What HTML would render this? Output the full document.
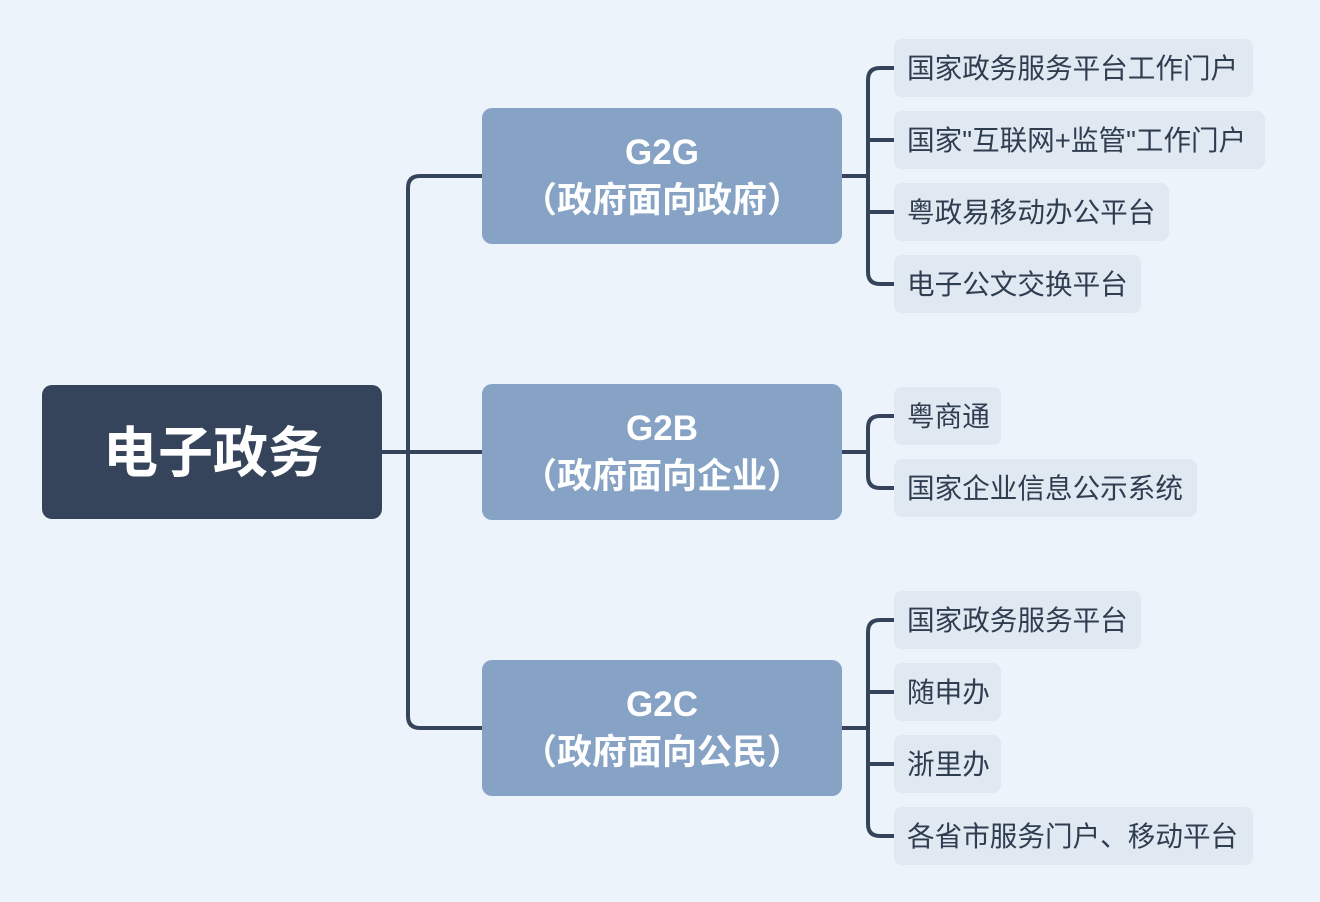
<!DOCTYPE html>
<html><head><meta charset="utf-8"><style>
html,body{margin:0;padding:0;background:#EDF3FA;}
svg{display:block}
text{font-family:"Liberation Sans","Noto Sans CJK SC",sans-serif;}
</style></head><body>
<svg width="1320" height="902" viewBox="0 0 1320 902" xmlns="http://www.w3.org/2000/svg">
<rect width="1320" height="902" fill="#EDF3FA"/>
<g fill="none" stroke="#35445A" stroke-width="4">
<path d="M382 452 H482"/>
<path d="M482 176 H420 Q408 176 408 188 V716 Q408 728 420 728 H482"/>
<path d="M842 176 H868"/>
<path d="M894 68 H880 Q868 68 868 80 V272 Q868 284 880 284 H894"/>
<path d="M868 140 H894 M868 212 H894"/>
<path d="M842 452 H868"/>
<path d="M894 416 H880 Q868 416 868 428 V476 Q868 488 880 488 H894"/>
<path d="M842 728 H868"/>
<path d="M894 620 H880 Q868 620 868 632 V824 Q868 836 880 836 H894"/>
<path d="M868 692 H894 M868 764 H894"/>
</g>
<rect x="42" y="385" width="340" height="134" rx="10" fill="#35445A"/>
<text x="213" y="472" text-anchor="middle" fill="#fff" font-size="55" font-weight="bold">电子政务</text>
<g fill="#86A3C6">
<rect x="482" y="108" width="360" height="136" rx="10"/>
<rect x="482" y="384" width="360" height="136" rx="10"/>
<rect x="482" y="660" width="360" height="136" rx="10"/>
</g>
<g fill="#fff" font-size="35" font-weight="bold" text-anchor="middle">
<text x="662" y="164">G2G</text><text x="662" y="212">（政府面向政府）</text>
<text x="662" y="440">G2B</text><text x="662" y="488">（政府面向企业）</text>
<text x="662" y="716">G2C</text><text x="662" y="764">（政府面向公民）</text>
</g>
<g fill="#E0E8F2">
<rect x="894" y="39" width="359" height="58" rx="8"/>
<rect x="894" y="111" width="371" height="58" rx="8"/>
<rect x="894" y="183" width="275" height="58" rx="8"/>
<rect x="894" y="255" width="247" height="58" rx="8"/>
<rect x="894" y="387" width="107" height="58" rx="8"/>
<rect x="894" y="459" width="303" height="58" rx="8"/>
<rect x="894" y="591" width="247" height="58" rx="8"/>
<rect x="894" y="663" width="107" height="58" rx="8"/>
<rect x="894" y="735" width="107" height="58" rx="8"/>
<rect x="894" y="807" width="359" height="58" rx="8"/>
</g>
<g fill="#2F3D50" font-size="27.6">
<text x="907" y="78">国家政务服务平台工作门户</text>
<text x="907" y="150">国家"互联网+监管"工作门户</text>
<text x="907" y="222">粤政易移动办公平台</text>
<text x="907" y="294">电子公文交换平台</text>
<text x="907" y="426">粤商通</text>
<text x="907" y="498">国家企业信息公示系统</text>
<text x="907" y="630">国家政务服务平台</text>
<text x="907" y="702">随申办</text>
<text x="907" y="774">浙里办</text>
<text x="907" y="846">各省市服务门户、移动平台</text>
</g>
</svg>
</body></html>
